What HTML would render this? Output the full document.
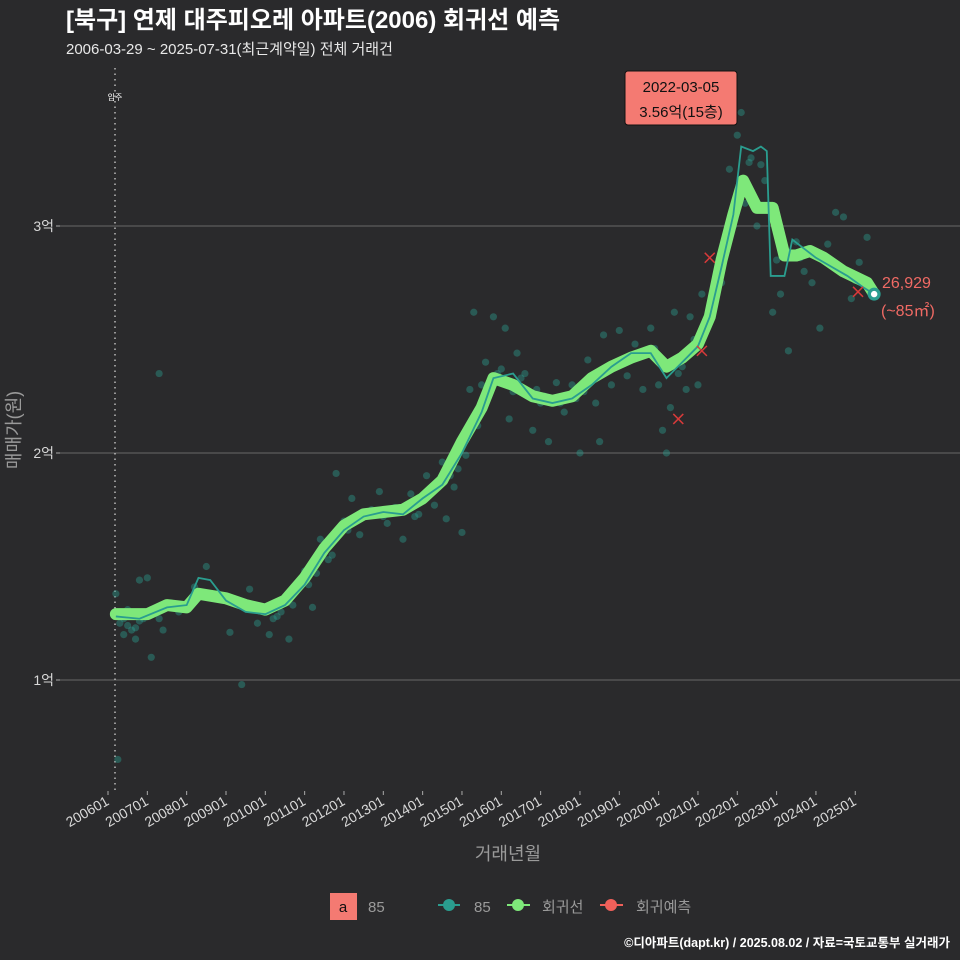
<!DOCTYPE html>
<html><head><meta charset="utf-8">
<style>
html,body{margin:0;padding:0;background:#2a2a2c;}
svg{display:block;font-family:"Liberation Sans","Noto Sans CJK KR",sans-serif;}
</style></head>
<body>
<svg id="chart" width="960" height="960" viewBox="0 0 960 960" xmlns="http://www.w3.org/2000/svg">
<rect width="960" height="960" fill="#2a2a2c"/>
<text x="66" y="28" fill="#ffffff" font-size="24" font-weight="bold">[북구] 연제 대주피오레 아파트(2006) 회귀선 예측</text>
<text x="66" y="54" fill="#e8e8e8" font-size="15">2006-03-29 ~ 2025-07-31(최근계약일) 전체 거래건</text>
<g id="grid"></g>
<g id="yticks"></g>
<g id="xticks"></g>
<line x1="115" y1="68" x2="115" y2="790" stroke="#cfcfcf" stroke-width="1.3" stroke-dasharray="1.5,4"/>
<text x="115" y="100" fill="#ffffff" font-size="8" text-anchor="middle">입주</text>
<g id="points"></g>
<g id="lines"></g>
<g id="marks"></g>
<text x="20" y="430" fill="#9a9a9a" font-size="18" text-anchor="middle" transform="rotate(-90 20 430)">매매가(원)</text>
<text x="508" y="860" fill="#9a9a9a" font-size="18" text-anchor="middle">거래년월</text>
<g>
<rect x="625" y="71" width="112" height="54" rx="3" fill="#f47a72" stroke="#111" stroke-width="1"/>
<text x="681" y="92" font-size="15" text-anchor="middle" fill="#111">2022-03-05</text>
<text x="681" y="117" font-size="15" text-anchor="middle" fill="#111">3.56억(15층)</text>
</g>
<text x="882" y="288" fill="#f06a64" font-size="16">26,929</text>
<text x="881" y="316" fill="#f06a64" font-size="16">(~85㎡)</text>
<g>
<rect x="330" y="893" width="27" height="27" fill="#f47a72"/>
<text x="343" y="912" font-size="15" text-anchor="middle" fill="#111">a</text>
<text x="368" y="912" font-size="15" fill="#9a9a9a">85</text>
<g><line x1="438" y1="905" x2="460" y2="905" stroke="#2a9d8f" stroke-width="2"/><circle cx="449" cy="905" r="6" fill="#2a9d8f"/><text x="474" y="912" font-size="15" fill="#9a9a9a">85</text></g>
<g><line x1="507" y1="905" x2="530" y2="905" stroke="#7ee87a" stroke-width="2"/><circle cx="518" cy="905" r="6" fill="#7ee87a"/><text x="542" y="912" font-size="15" fill="#9a9a9a">회귀선</text></g>
<g><line x1="600" y1="905" x2="623" y2="905" stroke="#f0605a" stroke-width="2"/><circle cx="611" cy="905" r="6" fill="#f0605a"/><text x="636" y="912" font-size="15" fill="#9a9a9a">회귀예측</text></g>
</g>
<text x="950" y="947" fill="#ffffff" font-size="12.5" font-weight="bold" text-anchor="end">©디아파트(dapt.kr) / 2025.08.02 / 자료=국토교통부 실거래가</text>
</svg>
<script>
const yTickValues=[1,2,3];
const yTickLabels=["1억","2억","3억"];
const xTickYears=[2006,2007,2008,2009,2010,2011,2012,2013,2014,2015,2016,2017,2018,2019,2020,2021,2022,2023,2024,2025];
const xTickLabels=["200601","200701","200801","200901","201001","201101","201201","201301","201401","201501","201601","201701","201801","201901","202001","202101","202201","202301","202401","202501"];
const regTimes=[2006.2,2007.0,2007.5,2008.0,2008.3,2009.0,2009.5,2010.0,2010.5,2011.0,2011.5,2012.0,2012.5,2013.0,2013.5,2014.0,2014.5,2015.0,2015.5,2015.8,2016.3,2016.8,2017.3,2017.8,2018.3,2018.8,2019.3,2019.8,2020.2,2020.6,2021.0,2021.3,2021.6,2021.9,2022.15,2022.5,2022.9,2023.2,2023.5,2023.85,2024.2,2024.7,2025.3,2025.48];
const regValues=[1.29,1.29,1.33,1.32,1.38,1.36,1.33,1.31,1.35,1.45,1.58,1.68,1.73,1.74,1.75,1.80,1.88,2.05,2.20,2.33,2.30,2.25,2.23,2.25,2.33,2.38,2.42,2.45,2.38,2.42,2.48,2.60,2.85,3.05,3.20,3.08,3.08,2.87,2.87,2.89,2.86,2.80,2.75,2.70];
const lineTimes=[2006.2,2006.8,2007.5,2008.0,2008.3,2008.6,2009.0,2009.5,2010.0,2010.5,2011.0,2011.5,2012.0,2012.5,2013.0,2013.5,2014.0,2014.5,2015.0,2015.5,2015.8,2016.3,2016.8,2017.3,2017.8,2018.3,2018.8,2019.3,2019.8,2020.2,2020.6,2021.0,2021.3,2021.6,2021.9,2022.1,2022.4,2022.6,2022.75,2022.85,2023.2,2023.4,2023.7,2024.0,2024.4,2024.8,2025.2,2025.48];
const lineValues=[1.28,1.27,1.32,1.33,1.45,1.44,1.35,1.30,1.29,1.33,1.42,1.56,1.66,1.72,1.74,1.73,1.80,1.86,2.00,2.18,2.33,2.35,2.24,2.22,2.24,2.30,2.38,2.44,2.44,2.33,2.40,2.47,2.60,2.82,3.05,3.35,3.33,3.35,3.33,2.78,2.78,2.94,2.90,2.86,2.82,2.78,2.73,2.70];
const ptTimes=[2006.2,2006.3,2006.4,2006.5,2006.6,2006.7,2006.8,2006.9,2007.0,2007.1,2007.2,2007.4,2007.6,2008.2,2008.5,2008.8,2009.1,2009.3,2009.6,2009.8,2010.0,2010.1,2010.3,2010.5,2010.6,2010.8,2011.0,2011.2,2011.4,2011.6,2011.8,2012.0,2012.2,2012.4,2012.6,2012.9,2013.1,2013.3,2013.5,2013.7,2013.9,2014.1,2014.3,2014.5,2014.6,2014.8,2015.0,2015.2,2015.3,2015.5,2015.6,2015.8,2016.0,2016.2,2016.4,2016.6,2016.8,2017.0,2017.2,2017.4,2017.6,2017.8,2018.0,2018.2,2018.4,2018.6,2018.8,2019.0,2019.2,2019.4,2019.6,2019.8,2020.0,2020.1,2020.3,2020.4,2020.5,2020.7,2020.8,2020.9,2021.1,2021.3,2021.5,2021.7,2021.8,2022.0,2022.1,2022.2,2022.3,2022.5,2022.7,2022.9,2023.1,2023.3,2023.5,2023.7,2023.9,2024.1,2024.3,2024.5,2024.7,2024.9,2025.1,2025.3,2006.25,2009.4,2015.0,2016.1,2018.5,2020.2,2021.0,2022.6,2007.3,
2006.3,2006.4,2006.5,2006.6,2006.7,2006.8,2006.9,2007.1,2007.3,2007.8,2008.1,2008.4,2009.2,2009.7,2010.2,2010.4,2010.7,2011.1,2011.3,2011.7,2012.1,2012.3,2012.7,2013.0,2013.2,2013.6,2013.8,2014.0,2014.2,2014.4,2014.7,2014.9,2015.1,2015.4,2015.7,2015.9,2016.1,2016.3,2016.5,2016.9,2017.1,2017.5,2017.9,2018.1,2018.7,2019.1,2019.5,2019.9,2020.3,2020.6,2020.8,2021.0,2021.2,2021.4,2021.6,2021.9,2022.05,2022.35,2022.45,2023.0,2023.6,2024.0,2024.6,2025.0];
const ptValues=[1.38,1.25,1.20,1.31,1.22,1.18,1.44,1.27,1.45,1.10,1.30,1.22,1.34,1.41,1.50,1.38,1.21,1.35,1.40,1.25,1.30,1.20,1.28,1.36,1.18,1.40,1.48,1.32,1.62,1.53,1.91,1.70,1.80,1.64,1.74,1.83,1.69,1.76,1.62,1.82,1.73,1.90,1.77,1.96,1.71,1.85,2.05,2.28,2.62,2.30,2.40,2.60,2.37,2.15,2.44,2.35,2.10,2.22,2.05,2.31,2.18,2.30,2.00,2.41,2.22,2.52,2.30,2.54,2.34,2.48,2.28,2.55,2.30,2.10,2.20,2.62,2.35,2.28,2.60,2.50,2.70,2.58,2.75,2.90,3.25,3.40,3.50,3.10,3.28,3.00,3.20,2.62,2.70,2.45,2.93,2.80,2.75,2.55,2.92,3.06,3.04,2.68,2.84,2.95,0.65,0.98,1.65,2.55,2.05,2.00,2.30,3.27,2.35,
1.30,1.27,1.24,1.29,1.23,1.26,1.28,1.31,1.27,1.30,1.33,1.37,1.34,1.31,1.27,1.30,1.33,1.42,1.47,1.55,1.66,1.70,1.75,1.72,1.74,1.77,1.72,1.79,1.83,1.85,1.90,1.93,1.99,2.12,2.28,2.35,2.32,2.27,2.33,2.28,2.25,2.22,2.24,2.27,2.36,2.40,2.43,2.46,2.40,2.38,2.45,2.50,2.55,2.65,2.75,3.00,3.15,3.30,3.10,2.85,2.86,2.88,2.82,2.76];
const predTimes=[2021.3,2020.5,2021.1,2025.07];
const predValues=[2.86,2.15,2.45,2.71];

const NS="http://www.w3.org/2000/svg";
const X=t=>108+(t-2006)*39.33;
const Y=v=>680-(v-1)*227;
function mk(tag,attrs,parent){const e=document.createElementNS(NS,tag);for(const k in attrs)e.setAttribute(k,attrs[k]);parent.appendChild(e);return e;}
const grid=document.getElementById('grid'),yt=document.getElementById('yticks'),xt=document.getElementById('xticks');
yTickValues.forEach((v,i)=>{
 const l=mk('line',{x1:60,x2:960,y1:Y(v),y2:Y(v),stroke:'#5c5c5c','stroke-width':1.2},grid);
 
 
 const tk=mk('line',{x1:56,x2:60,y1:Y(v),y2:Y(v),stroke:'#aaa'},yt);
 
 
 const t=mk('text',{x:54,y:Y(v)+5,fill:'#d8d8d8','font-size':14,'text-anchor':'end'},yt);
 t.textContent=yTickLabels[i];
 
 
});
xTickYears.forEach((yr,i)=>{
 const x=X(yr);
 const tk=mk('line',{x1:x,x2:x,y1:791,y2:795,stroke:'#aaa'},xt);
 
 
 const t=mk('text',{x:x+2,y:804,fill:'#d8d8d8','font-size':14,'text-anchor':'end',transform:`rotate(-30 ${x+2} 804)`},xt);
 t.textContent=xTickLabels[i];
 
 
});
const pg=document.getElementById('points');
ptTimes.forEach((t,i)=>{
 const c=mk('circle',{cx:X(t),cy:Y(ptValues[i]),r:3.6,fill:'#2a9d8f','fill-opacity':0.42},pg);
 
 
});
const lg=document.getElementById('lines');
const rp=mk('path',{d:regTimes.map((t,i)=>(i?'L':'M')+X(t)+' '+Y(regValues[i])).join(' '),fill:'none',stroke:'#7ee87a','stroke-width':12,'stroke-linejoin':'round','stroke-linecap':'round'},lg);


const tp=mk('path',{d:lineTimes.map((t,i)=>(i?'L':'M')+X(t)+' '+Y(lineValues[i])).join(' '),fill:'none',stroke:'#2a9d8f','stroke-width':1.8},lg);


const mg=document.getElementById('marks');
predTimes.forEach((t,i)=>{
 const x=X(t),y=Y(predValues[i]);
 const p=mk('path',{d:`M${x-5} ${y-5}L${x+5} ${y+5}M${x-5} ${y+5}L${x+5} ${y-5}`,stroke:'#d83a3a','stroke-width':1.5},mg);
 
 
});
const lt=lineTimes[lineTimes.length-1],lv=lineValues[lineValues.length-1];
const e1=mk('circle',{cx:X(lt),cy:Y(lv),r:6.5,fill:'#2a9d8f'},mg);


const e2=mk('circle',{cx:X(lt),cy:Y(lv),r:3.2,fill:'#ffffff'},mg);


</script>
</body></html>
